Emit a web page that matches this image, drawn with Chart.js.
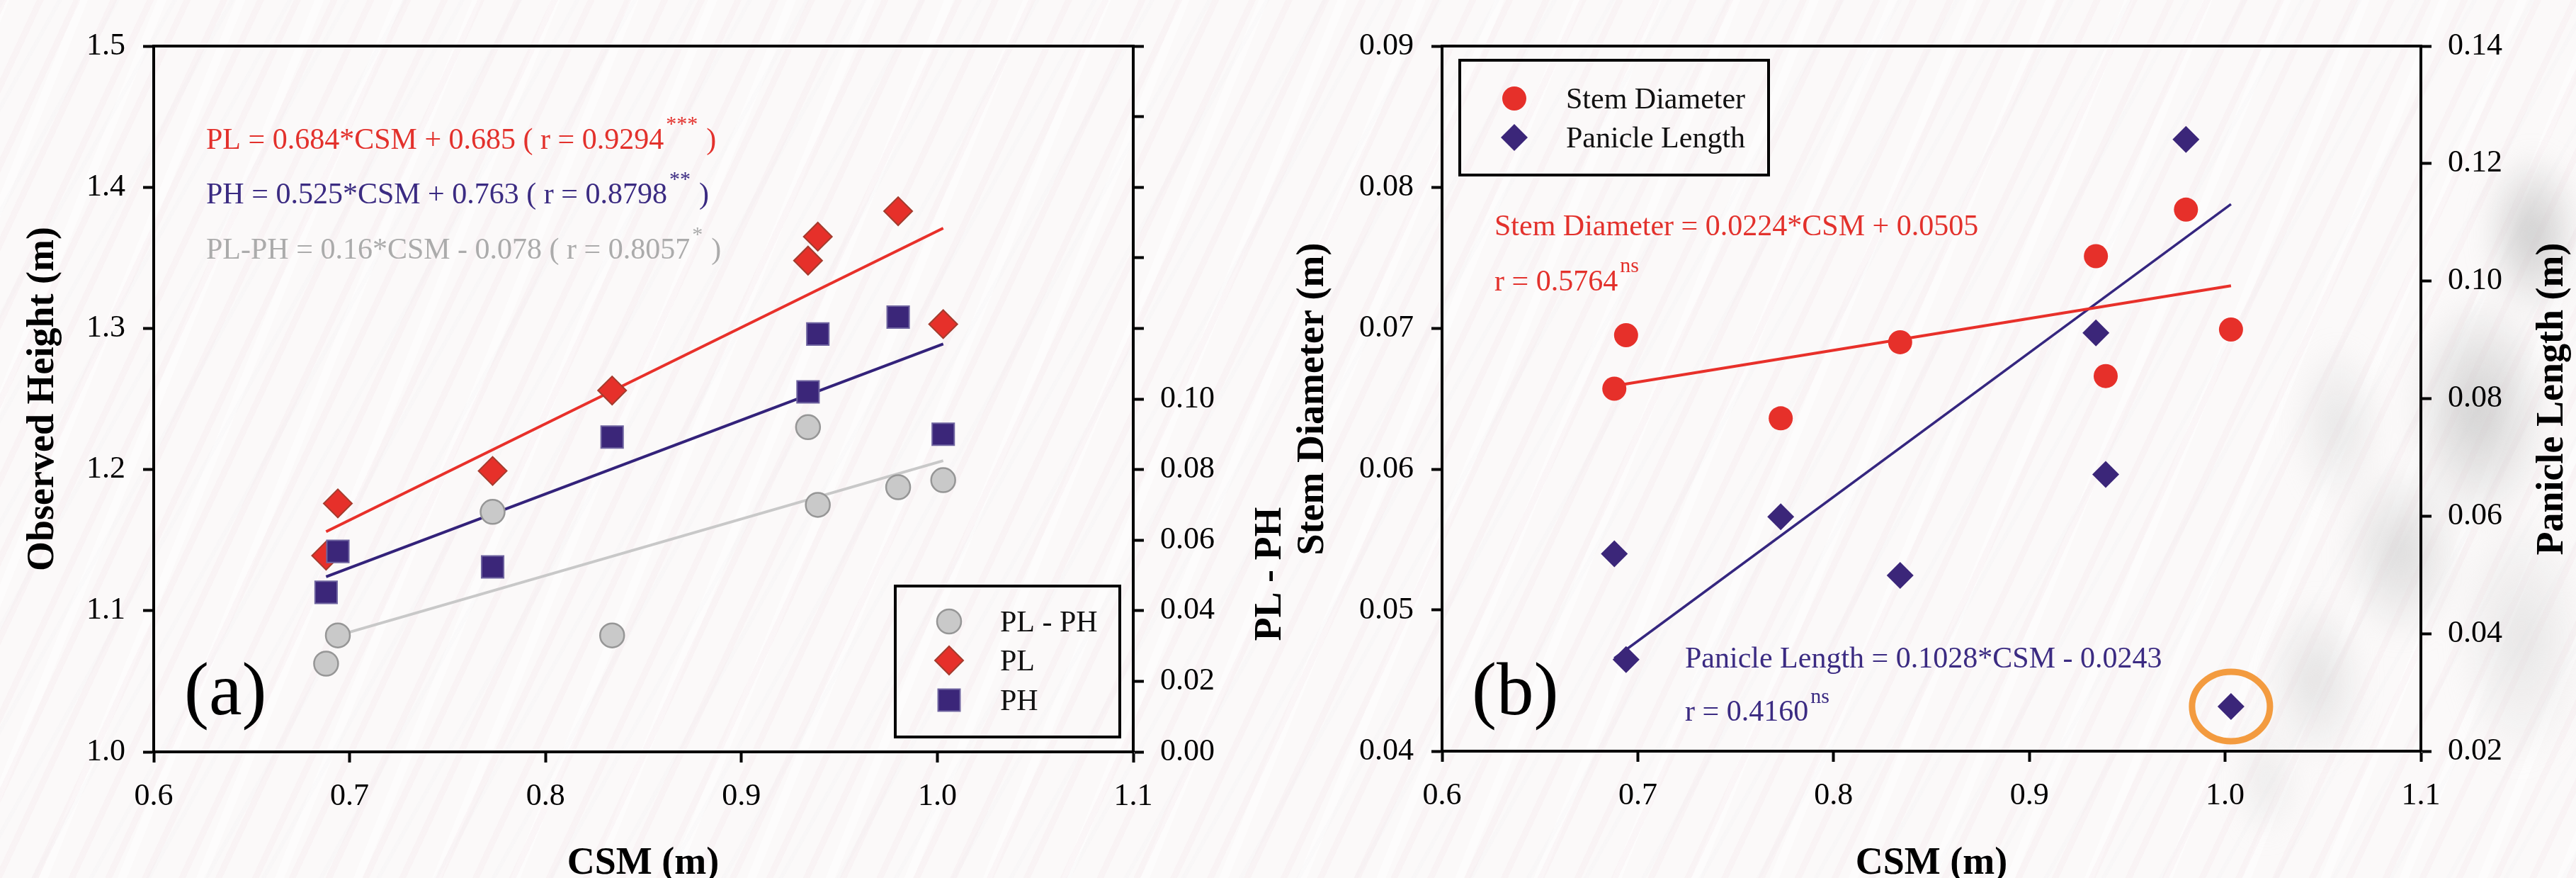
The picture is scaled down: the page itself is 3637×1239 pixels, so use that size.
<!DOCTYPE html>
<html>
<head>
<meta charset="utf-8">
<script src="https://cdn.jsdelivr.net/npm/chart.js@4.4.1/dist/chart.umd.min.js"></script>
<style>
  html, body { margin: 0; padding: 0; }
  body {
    width: 3637px; height: 1239px; overflow: hidden; position: relative;
    background-color: #fbf9f9;
    background-image:
      repeating-linear-gradient(115deg, rgba(240,218,225,0.18) 0px, rgba(240,218,225,0.18) 9px, rgba(255,255,255,0) 9px, rgba(255,255,255,0) 47px),
      repeating-linear-gradient(119deg, rgba(225,225,230,0.09) 0px, rgba(225,225,230,0.09) 6px, rgba(255,255,255,0) 6px, rgba(255,255,255,0) 71px),
      repeating-linear-gradient(112deg, rgba(255,255,255,0.5) 0px, rgba(255,255,255,0.5) 12px, rgba(255,255,255,0) 12px, rgba(255,255,255,0) 103px);
  }
  #blob {
    position: absolute; left: 0; top: 0; width: 3637px; height: 1239px; filter: blur(16px);
    background:
      radial-gradient(ellipse 90px 150px at 3575px 330px, rgba(190,190,190,0.75), rgba(190,190,190,0) 80%),
      radial-gradient(ellipse 130px 210px at 3500px 580px, rgba(196,196,196,0.75), rgba(196,196,196,0) 80%),
      radial-gradient(ellipse 110px 160px at 3390px 780px, rgba(204,204,204,0.65), rgba(204,204,204,0) 80%),
      radial-gradient(ellipse 80px 150px at 3300px 600px, rgba(212,212,212,0.5), rgba(212,212,212,0) 80%),
      radial-gradient(ellipse 90px 150px at 3270px 960px, rgba(208,208,208,0.55), rgba(208,208,208,0) 80%),
      radial-gradient(ellipse 120px 230px at 3560px 900px, rgba(212,212,212,0.5), rgba(212,212,212,0) 80%),
      radial-gradient(ellipse 60px 110px at 3200px 1100px, rgba(218,218,218,0.45), rgba(218,218,218,0) 80%);
  }
  canvas { position: absolute; top: 0; }
  #chartA { left: 0; }
  #chartB { left: 1820px; }
</style>
</head>
<body>
<div id="blob"></div>
<canvas id="chartA" width="1830" height="1239"></canvas>
<canvas id="chartB" width="1817" height="1239"></canvas>
<script>
// CSM for the eight plots (shared by both panels)
const csm = [0.688, 0.694, 0.773, 0.834, 0.934, 0.939, 0.980, 1.003];

// panel (a): observed heights
const plHeight = [1.139, 1.176, 1.199, 1.256, 1.348, 1.365, 1.383, 1.303];
const phHeight = [1.113, 1.142, 1.131, 1.223, 1.255, 1.296, 1.308, 1.225];
const plMinusPh = [0.025, 0.033, 0.068, 0.033, 0.092, 0.070, 0.075, 0.077];

// panel (b): stem diameter and panicle length
const stemDiameter = [0.0657, 0.0695, 0.0636, 0.0690, 0.0751, 0.0666, 0.0784, 0.0699];
const panicleLength = [0.0536, 0.0356, 0.0599, 0.0499, 0.0912, 0.0671, 0.1241, 0.0276];

// regression line end points
const fitX = [0.688, 1.003];
const plFit = [1.156, 1.371];
const phFit = [1.124, 1.289];
const diffFit = [0.032, 0.0825];
const stemFit = [0.0659, 0.0730];
const panicleFit = [0.0358, 0.1131];

// tick values
const xTicks = [0.6, 0.7, 0.8, 0.9, 1.0, 1.1];
const outlierIndex = 7;

const serif = "'Liberation Serif', 'Times New Roman', serif";
Chart.defaults.font.family = serif;
Chart.defaults.color = '#000';

const red = '#e6302a';
const navy = '#3b2679';
const grey = '#c9c9c9';

function pts(xs, ys) {
    return xs.map((x, i) => ({ x: x, y: ys[i] }));
}

function scale(pos, min, max, step, digits, pad, size, labelMax) {
    return {
        type: 'linear',
        position: pos,
        min: min,
        max: max,
        border: { display: true, color: '#000', width: 4 },
        grid: { drawOnChartArea: false, drawTicks: true, tickLength: 15, tickWidth: 4, tickColor: '#000' },
        ticks: {
            stepSize: step,
            autoSkip: false,
            padding: pad,
            color: '#000',
            font: { size: 44 },
            callback: v => (labelMax === undefined || v <= labelMax + 1e-9) ? v.toFixed(digits) : ''
        },
        afterFit: sc => {
            if (pos === 'bottom') sc.height = size; else sc.width = size;
        }
    };
}

function markerSet(data, axis, style, radius, fill, edge, edgeW) {
    return {
        data: data, yAxisID: axis, showLine: false,
        pointStyle: style, pointRadius: radius, pointHoverRadius: radius,
        backgroundColor: fill, borderColor: edge, pointBorderWidth: edgeW, borderWidth: edgeW
    };
}

function lineSet(data, axis, color, width) {
    return {
        data: data, yAxisID: axis, showLine: true, pointRadius: 0, pointHoverRadius: 0,
        borderColor: color, borderWidth: width, backgroundColor: color, fill: false
    };
}

// --- little drawing helpers for the annotations ---
function shape(ctx, kind, x, y, r, fill, edge, edgeW) {
    ctx.save();
    ctx.beginPath();
    if (kind === 'circle') ctx.arc(x, y, r, 0, Math.PI * 2);
    if (kind === 'diamond') { ctx.moveTo(x, y - r); ctx.lineTo(x + r, y); ctx.lineTo(x, y + r); ctx.lineTo(x - r, y); ctx.closePath(); }
    if (kind === 'square') ctx.rect(x - r, y - r, 2 * r, 2 * r);
    ctx.fillStyle = fill;
    ctx.fill();
    if (edgeW) { ctx.lineWidth = edgeW; ctx.strokeStyle = edge; ctx.stroke(); }
    ctx.restore();
}

function text(ctx, s, x, y, size, color, opts) {
    opts = opts || {};
    ctx.save();
    ctx.font = (opts.bold ? 'bold ' : '') + size + 'px ' + serif;
    ctx.fillStyle = color;
    ctx.textAlign = opts.align || 'left';
    ctx.textBaseline = 'alphabetic';
    if (opts.rotate) {
        ctx.translate(x, y);
        ctx.rotate(-Math.PI / 2);
        ctx.fillText(s, 0, 0);
    } else {
        ctx.fillText(s, x, y);
    }
    const w = ctx.measureText(s).width;
    ctx.restore();
    return w;
}

// equation with superscript, e.g. "... r = 0.9294***)"
function equation(ctx, main, sup, x, y, supY, color, close) {
    const w = text(ctx, main, x, y, 42, color);
    const sx = x + w + 3;
    const sw = text(ctx, sup, sx, supY, 30, color);
    if (close) text(ctx, ')', sx + sw + 12, y, 42, color);
}

function topFrame(chart) {
    const a = chart.chartArea, ctx = chart.ctx;
    ctx.save();
    ctx.strokeStyle = '#000';
    ctx.lineWidth = 4;
    ctx.beginPath();
    ctx.moveTo(a.left - 2, a.top);
    ctx.lineTo(a.right + 2, a.top);
    ctx.stroke();
    ctx.restore();
}

function box(ctx, x, y, w, h) {
    ctx.save();
    ctx.strokeStyle = '#000';
    ctx.lineWidth = 4;
    ctx.strokeRect(x, y, w, h);
    ctx.restore();
}

const annotateA = {
    id: 'annotateA',
    afterDraw(chart) {
        const ctx = chart.ctx;
        topFrame(chart);
        equation(ctx, 'PL = 0.684*CSM + 0.685 ( r = 0.9294', '***', 291, 210, 184, '#e3312c', true);
        equation(ctx, 'PH = 0.525*CSM + 0.763 ( r = 0.8798', '**', 291, 287, 262, '#3b2b82', true);
        equation(ctx, 'PL-PH = 0.16*CSM - 0.078 ( r = 0.8057', '*', 291, 365, 340, '#ababab', true);

        // legend
        box(ctx, 1264, 827, 317, 213);
        shape(ctx, 'circle', 1340, 877, 17, grey, '#969696', 2.5);
        shape(ctx, 'diamond', 1340, 932, 20, red, '#a43b2d', 2);
        shape(ctx, 'square', 1340, 988, 15.5, navy, '#6f64a0', 2);
        text(ctx, 'PL - PH', 1412, 891, 42, '#111');
        text(ctx, 'PL', 1412, 946, 42, '#111');
        text(ctx, 'PH', 1412, 1002, 42, '#111');

        text(ctx, '(a)', 260, 1008, 105, '#000');

        text(ctx, 'Observed Height (m)', 75, 563, 54, '#000', { bold: true, rotate: true, align: 'center' });
        text(ctx, 'PL - PH', 1808, 810, 54, '#000', { bold: true, rotate: true, align: 'center' });
        text(ctx, 'CSM (m)', 908, 1233, 54, '#000', { bold: true, align: 'center' });
    }
};

const annotateB = {
    id: 'annotateB',
    afterDraw(chart) {
        const ctx = chart.ctx;
        const off = 1820;
        topFrame(chart);

        // circled outlier
        const px = chart.scales.x.getPixelForValue(csm[outlierIndex]);
        const py = chart.scales.y2.getPixelForValue(panicleLength[outlierIndex]);
        ctx.save();
        ctx.strokeStyle = '#f39b3f';
        ctx.lineWidth = 9;
        ctx.beginPath();
        ctx.ellipse(px, py, 55, 49, 0, 0, Math.PI * 2);
        ctx.stroke();
        ctx.restore();

        text(ctx, 'Stem Diameter = 0.0224*CSM + 0.0505', 2110 - off, 332, 42, '#e3312c');
        equation(ctx, 'r = 0.5764', 'ns', 2110 - off, 410, 384, '#e3312c', false);
        text(ctx, 'Panicle Length = 0.1028*CSM - 0.0243', 2379 - off, 942, 42, '#3b2b82');
        equation(ctx, 'r = 0.4160', 'ns', 2379 - off, 1017, 992, '#3b2b82', false);

        // legend
        box(ctx, 2061 - off, 85, 436, 162);
        shape(ctx, 'circle', 2138 - off, 139, 17, red);
        shape(ctx, 'diamond', 2138 - off, 194, 19, navy);
        text(ctx, 'Stem Diameter', 2211 - off, 153, 42, '#111');
        text(ctx, 'Panicle Length', 2211 - off, 208, 42, '#111');

        text(ctx, '(b)', 2078 - off, 1008, 105, '#000');

        text(ctx, 'Stem Diameter (m)', 1868 - off, 563, 54, '#000', { bold: true, rotate: true, align: 'center' });
        text(ctx, 'Panicle Length (m)', 3618 - off, 563, 54, '#000', { bold: true, rotate: true, align: 'center' });
        text(ctx, 'CSM (m)', 2727 - off, 1233, 54, '#000', { bold: true, align: 'center' });
    }
};

const baseOptions = {
    responsive: false,
    devicePixelRatio: 1,
    animation: false,
    plugins: { legend: { display: false }, tooltip: { enabled: false } },
    events: []
};

new Chart(document.getElementById('chartA'), {
    type: 'scatter',
    data: {
        datasets: [
            markerSet(pts(csm, phHeight), 'y', 'rect', 22, navy, '#6f64a0', 2),
            markerSet(pts(csm, plHeight), 'y', 'rectRot', 20, red, '#a43b2d', 2),
            markerSet(pts(csm, plMinusPh), 'y2', 'circle', 17, grey, '#969696', 2.5),
            lineSet(pts(fitX, plFit), 'y', '#e8302a', 4),
            lineSet(pts(fitX, phFit), 'y', '#33227a', 4),
            lineSet(pts(fitX, diffFit), 'y2', '#c8c8c8', 4)
        ]
    },
    options: Object.assign({}, baseOptions, {
        layout: { padding: { top: 65, left: 0, right: 0, bottom: 0 } },
        scales: {
            x: scale('bottom', xTicks[0], xTicks[xTicks.length - 1], 0.1, 1, 22, 178),
            y: scale('left', 1.0, 1.5, 0.1, 1, 25, 217),
            y2: scale('right', 0, 0.2, 0.02, 2, 23, 230, 0.1)
        }
    }),
    plugins: [annotateA]
});

new Chart(document.getElementById('chartB'), {
    type: 'scatter',
    data: {
        datasets: [
            markerSet(pts(csm, stemDiameter), 'y', 'circle', 17, red, red, 0),
            markerSet(pts(csm, panicleLength), 'y2', 'rectRot', 19, navy, navy, 0),
            lineSet(pts(fitX, stemFit), 'y', '#e8302a', 4),
            lineSet(pts(fitX, panicleFit), 'y2', '#35267f', 3.5)
        ]
    },
    options: Object.assign({}, baseOptions, {
        layout: { padding: { top: 65, left: 0, right: 0, bottom: 0 } },
        scales: {
            x: scale('bottom', xTicks[0], xTicks[xTicks.length - 1], 0.1, 1, 22, 179),
            y: scale('left', 0.04, 0.09, 0.01, 2, 25, 216),
            y2: scale('right', 0.02, 0.14, 0.02, 2, 23, 219)
        }
    }),
    plugins: [annotateB]
});
</script>
</body>
</html>
